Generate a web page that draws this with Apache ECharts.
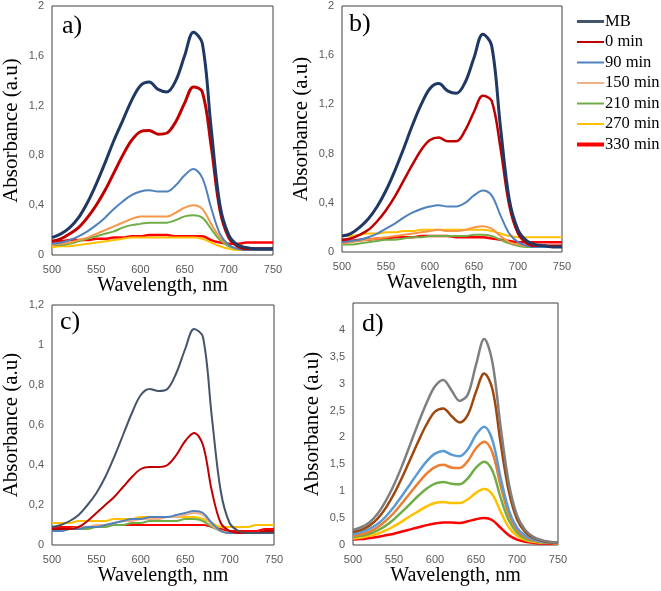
<!DOCTYPE html>
<html><head><meta charset="utf-8">
<script src="https://cdn.jsdelivr.net/npm/echarts@6/dist/echarts.min.js"></script>
<style>html,body{margin:0;padding:0;background:#fff}#c{width:661px;height:591px}</style>
</head><body><div id="c"></div>
<script>
// Wavelength grid (nm)
const wavelengths = [500,510,520,530,540,550,560,570,580,590,600,610,620,630,640,650,660,670,680,690,700,710,720,730,740,750];
const seriesNames = ['MB','0 min','90 min','150 min','210 min','270 min','330 min'];
const panelLabels = ['a)','b)','c)','d)'];

// Panel a)
const aMB  = [0.14,0.17,0.22,0.30,0.42,0.57,0.74,0.92,1.08,1.24,1.36,1.39,1.33,1.31,1.40,1.60,1.79,1.70,1.02,0.40,0.16,0.08,0.06,0.05,0.05,0.05];
const a0   = [0.11,0.13,0.17,0.22,0.30,0.40,0.52,0.66,0.80,0.92,0.99,1.00,0.97,0.98,1.07,1.22,1.35,1.31,0.88,0.36,0.14,0.07,0.05,0.05,0.05,0.05];
const a90  = [0.09,0.10,0.12,0.15,0.19,0.24,0.30,0.37,0.43,0.48,0.51,0.52,0.51,0.51,0.56,0.64,0.69,0.62,0.38,0.17,0.08,0.05,0.04,0.04,0.04,0.04];
const a150 = [0.08,0.09,0.10,0.12,0.14,0.17,0.20,0.23,0.26,0.29,0.31,0.31,0.31,0.31,0.34,0.38,0.40,0.37,0.25,0.14,0.08,0.05,0.05,0.05,0.05,0.05];
const a210 = [0.08,0.08,0.09,0.11,0.13,0.15,0.17,0.19,0.22,0.24,0.25,0.26,0.26,0.26,0.28,0.31,0.32,0.30,0.21,0.12,0.07,0.05,0.05,0.05,0.05,0.05];
const a270 = [0.06,0.07,0.07,0.08,0.09,0.10,0.11,0.12,0.13,0.14,0.14,0.14,0.14,0.14,0.14,0.14,0.14,0.13,0.10,0.07,0.05,0.04,0.04,0.04,0.04,0.04];
const a330 = [0.11,0.11,0.12,0.12,0.12,0.13,0.13,0.14,0.14,0.15,0.15,0.16,0.16,0.16,0.15,0.15,0.15,0.15,0.12,0.10,0.09,0.09,0.10,0.10,0.10,0.10];

// Panel b)
const bMB  = [0.13,0.15,0.20,0.27,0.37,0.50,0.66,0.84,1.03,1.20,1.33,1.37,1.31,1.29,1.38,1.58,1.77,1.68,1.02,0.43,0.18,0.09,0.06,0.05,0.04,0.04];
const b0   = [0.10,0.11,0.14,0.18,0.25,0.34,0.45,0.58,0.71,0.83,0.91,0.93,0.90,0.90,0.99,1.14,1.27,1.23,0.85,0.38,0.15,0.07,0.05,0.05,0.05,0.05];
const b90  = [0.08,0.09,0.10,0.12,0.15,0.19,0.23,0.28,0.32,0.35,0.37,0.38,0.37,0.37,0.40,0.46,0.50,0.46,0.30,0.15,0.08,0.05,0.04,0.04,0.04,0.04];
const b150 = [0.07,0.08,0.09,0.10,0.11,0.12,0.13,0.14,0.15,0.16,0.17,0.18,0.17,0.17,0.18,0.20,0.21,0.19,0.13,0.08,0.06,0.05,0.05,0.05,0.05,0.05];
const b210 = [0.06,0.06,0.07,0.08,0.09,0.10,0.10,0.11,0.12,0.12,0.13,0.13,0.13,0.13,0.13,0.14,0.14,0.13,0.10,0.07,0.05,0.04,0.04,0.04,0.04,0.04];
const b270 = [0.13,0.13,0.14,0.15,0.15,0.16,0.16,0.17,0.17,0.18,0.18,0.18,0.18,0.18,0.18,0.18,0.18,0.17,0.15,0.13,0.12,0.12,0.12,0.12,0.12,0.12];
const b330 = [0.09,0.09,0.10,0.10,0.11,0.11,0.12,0.12,0.12,0.13,0.13,0.13,0.13,0.12,0.12,0.12,0.12,0.11,0.10,0.09,0.08,0.08,0.08,0.08,0.08,0.08];

// Panel c)
const cMB  = [0.09,0.10,0.12,0.15,0.20,0.26,0.34,0.44,0.55,0.66,0.75,0.78,0.77,0.78,0.86,0.98,1.08,1.04,0.64,0.27,0.11,0.07,0.06,0.06,0.06,0.06];
const c0   = [0.08,0.08,0.08,0.09,0.12,0.16,0.20,0.24,0.29,0.34,0.38,0.39,0.39,0.40,0.45,0.52,0.56,0.50,0.27,0.11,0.07,0.06,0.06,0.06,0.07,0.07];
const c90  = [0.07,0.07,0.08,0.08,0.09,0.09,0.10,0.11,0.12,0.13,0.13,0.14,0.14,0.14,0.15,0.16,0.17,0.16,0.11,0.07,0.06,0.06,0.06,0.06,0.06,0.06];
const c150 = [0.08,0.08,0.08,0.09,0.09,0.10,0.10,0.11,0.12,0.12,0.13,0.13,0.13,0.14,0.14,0.15,0.16,0.15,0.10,0.07,0.06,0.06,0.06,0.06,0.06,0.06];
const c210 = [0.07,0.07,0.08,0.08,0.08,0.09,0.09,0.10,0.10,0.11,0.11,0.12,0.12,0.12,0.12,0.13,0.13,0.12,0.09,0.07,0.06,0.06,0.06,0.06,0.06,0.06];
const c270 = [0.11,0.11,0.11,0.12,0.12,0.12,0.12,0.13,0.13,0.13,0.14,0.14,0.14,0.14,0.14,0.14,0.14,0.13,0.11,0.09,0.09,0.09,0.09,0.10,0.10,0.10];
const c330 = [0.09,0.09,0.09,0.09,0.09,0.09,0.10,0.10,0.10,0.10,0.10,0.10,0.10,0.10,0.10,0.10,0.10,0.10,0.09,0.08,0.07,0.07,0.07,0.07,0.08,0.08];

// Panel d)
const dMB  = [0.28,0.33,0.42,0.58,0.82,1.12,1.48,1.88,2.28,2.65,2.95,3.07,2.88,2.68,2.80,3.35,3.83,3.40,2.20,1.15,0.55,0.28,0.15,0.09,0.06,0.04];
const d0   = [0.24,0.28,0.36,0.49,0.69,0.95,1.26,1.60,1.94,2.25,2.48,2.54,2.40,2.28,2.42,2.85,3.19,2.90,1.90,1.00,0.48,0.24,0.13,0.08,0.05,0.04];
const d90  = [0.20,0.24,0.30,0.39,0.53,0.71,0.92,1.14,1.36,1.56,1.70,1.75,1.68,1.65,1.78,2.05,2.20,1.95,1.25,0.65,0.32,0.17,0.10,0.06,0.05,0.04];
const d150 = [0.17,0.20,0.25,0.33,0.45,0.60,0.78,0.97,1.16,1.33,1.45,1.49,1.44,1.43,1.56,1.80,1.92,1.72,1.10,0.57,0.28,0.15,0.09,0.06,0.05,0.04];
const d210 = [0.15,0.17,0.21,0.27,0.36,0.48,0.62,0.77,0.92,1.05,1.14,1.17,1.14,1.13,1.24,1.44,1.55,1.38,0.88,0.46,0.23,0.12,0.08,0.05,0.04,0.04];
const d270 = [0.12,0.14,0.17,0.21,0.27,0.35,0.44,0.54,0.63,0.72,0.78,0.80,0.78,0.78,0.85,0.97,1.04,0.94,0.62,0.33,0.17,0.09,0.06,0.04,0.04,0.03];
const d330 = [0.10,0.11,0.13,0.15,0.18,0.21,0.25,0.29,0.33,0.37,0.40,0.42,0.42,0.41,0.44,0.48,0.50,0.46,0.32,0.18,0.10,0.06,0.04,0.03,0.03,0.03];

const panels = [
  {data:[aMB,a0,a90,a150,a210,a270,a330], colors:['#1f3864','#c00000','#4f81bd','#f79646','#70ad47','#ffc000','#ff0000'], widths:[3,3,2,2,2,2,2.5], max:2, interval:0.4,
   grid:{left:52, top:6, width:221, height:249}, pos:{x:57, y:8}},
  {data:[bMB,b0,b90,b150,b210,b270,b330], colors:['#1f3864','#c00000','#4f81bd','#f79646','#70ad47','#ffc000','#ff0000'], widths:[3,2.5,2,2,2,2,2.5], max:2, interval:0.4,
   grid:{left:342, top:6, width:220, height:246}, pos:{x:344, y:6}},
  {data:[cMB,c0,c90,c150,c210,c270,c330], colors:['#44546a','#c00000','#4f81bd','#f4b183','#70ad47','#ffc000','#ff0000'], widths:[2,2,2,2,2,2,2],   max:1.2, interval:0.2,
   grid:{left:52, top:305, width:222, height:240}, pos:{x:55, y:304}},
  {data:[dMB,d0,d90,d150,d210,d270,d330], colors:['#7f7f7f','#9e480e','#5b9bd5','#ed7d31','#70ad47','#ffc000','#ff0000'], widths:[2.5,2.5,2.5,2.5,2.5,2.5,2.5], max:4.5, interval:0.5,
   grid:{left:353, top:303, width:205, height:242}, pos:{x:357, y:306}, hideTop:true}
];

const legendColors = ['#44546a','#c00000','#4f81bd','#f4b183','#70ad47','#ffc000','#ff0000'];
const legendWidths = [3,2,2,2,2,2,4];

const serif = 'Liberation Serif, Times New Roman, serif';
const sans = 'Liberation Sans, Arial, sans-serif';

const grids = [], xAxes = [], yAxes = [], series = [], titles = [];
panels.forEach((p, gi) => {
  grids.push(Object.assign({show:true, borderColor:'#404040', borderWidth:1, containLabel:false}, p.grid));
  xAxes.push({type:'value', gridIndex:gi, min:500, max:750, interval:50,
    name:'Wavelength, nm', nameLocation:'middle', nameGap:21,
    nameTextStyle:{fontFamily:serif, fontSize:20, color:'#000'},
    axisLine:{show:false}, axisTick:{show:false}, splitLine:{show:false},
    axisLabel:{fontFamily:sans, fontSize:11, color:'#595959', margin:9}});
  yAxes.push({type:'value', gridIndex:gi, min:0, max:p.max, interval:p.interval,
    name:'Absorbance (a.u)', nameLocation:'middle', nameGap:30, nameRotate:90,
    nameTextStyle:{fontFamily:serif, fontSize:21, color:'#000'},
    axisLine:{show:false}, axisTick:{show:false}, splitLine:{show:false},
    axisLabel:{fontFamily:sans, fontSize:11, color:'#595959', margin:8,
      formatter: v => (p.hideTop && Math.abs(v - p.max) < 1e-6) ? '' : String(+v.toFixed(2)).replace('.', ',')}});
  titles.push({text:panelLabels[gi], left:p.pos.x, top:p.pos.y, textStyle:{fontFamily:serif, fontSize:26, fontWeight:'normal', color:'#000'}});
  p.data.forEach((ys, si) => {
    series.push({type:'line', name:seriesNames[si], xAxisIndex:gi, yAxisIndex:gi,
      data: wavelengths.map((x, i) => [x, ys[i]]),
      smooth:0.35, symbol:'none', animation:false,
      lineStyle:{color:p.colors[si], width:p.widths[si]}, itemStyle:{color:p.colors[si]}, z: 10 - si});
  });
});

const chart = echarts.init(document.getElementById('c'), null, {renderer:'canvas'});
chart.setOption({
  animation:false,
  backgroundColor:'#fff',
  title: titles,
  grid: grids, xAxis: xAxes, yAxis: yAxes, series: series,
  legend: {orient:'vertical', left:570, top:8, itemWidth:27, itemHeight:14, itemGap:3.5, selectedMode:false,
    textStyle:{fontFamily:serif, fontSize:16.5, color:'#000', padding:[0,0,0,-4]},
    data: seriesNames.map((n, i) => ({name:n,
      itemStyle:{color:legendColors[i], opacity:0},
      lineStyle:{color:legendColors[i], width:legendWidths[i]}}))}
});
</script></body></html>
